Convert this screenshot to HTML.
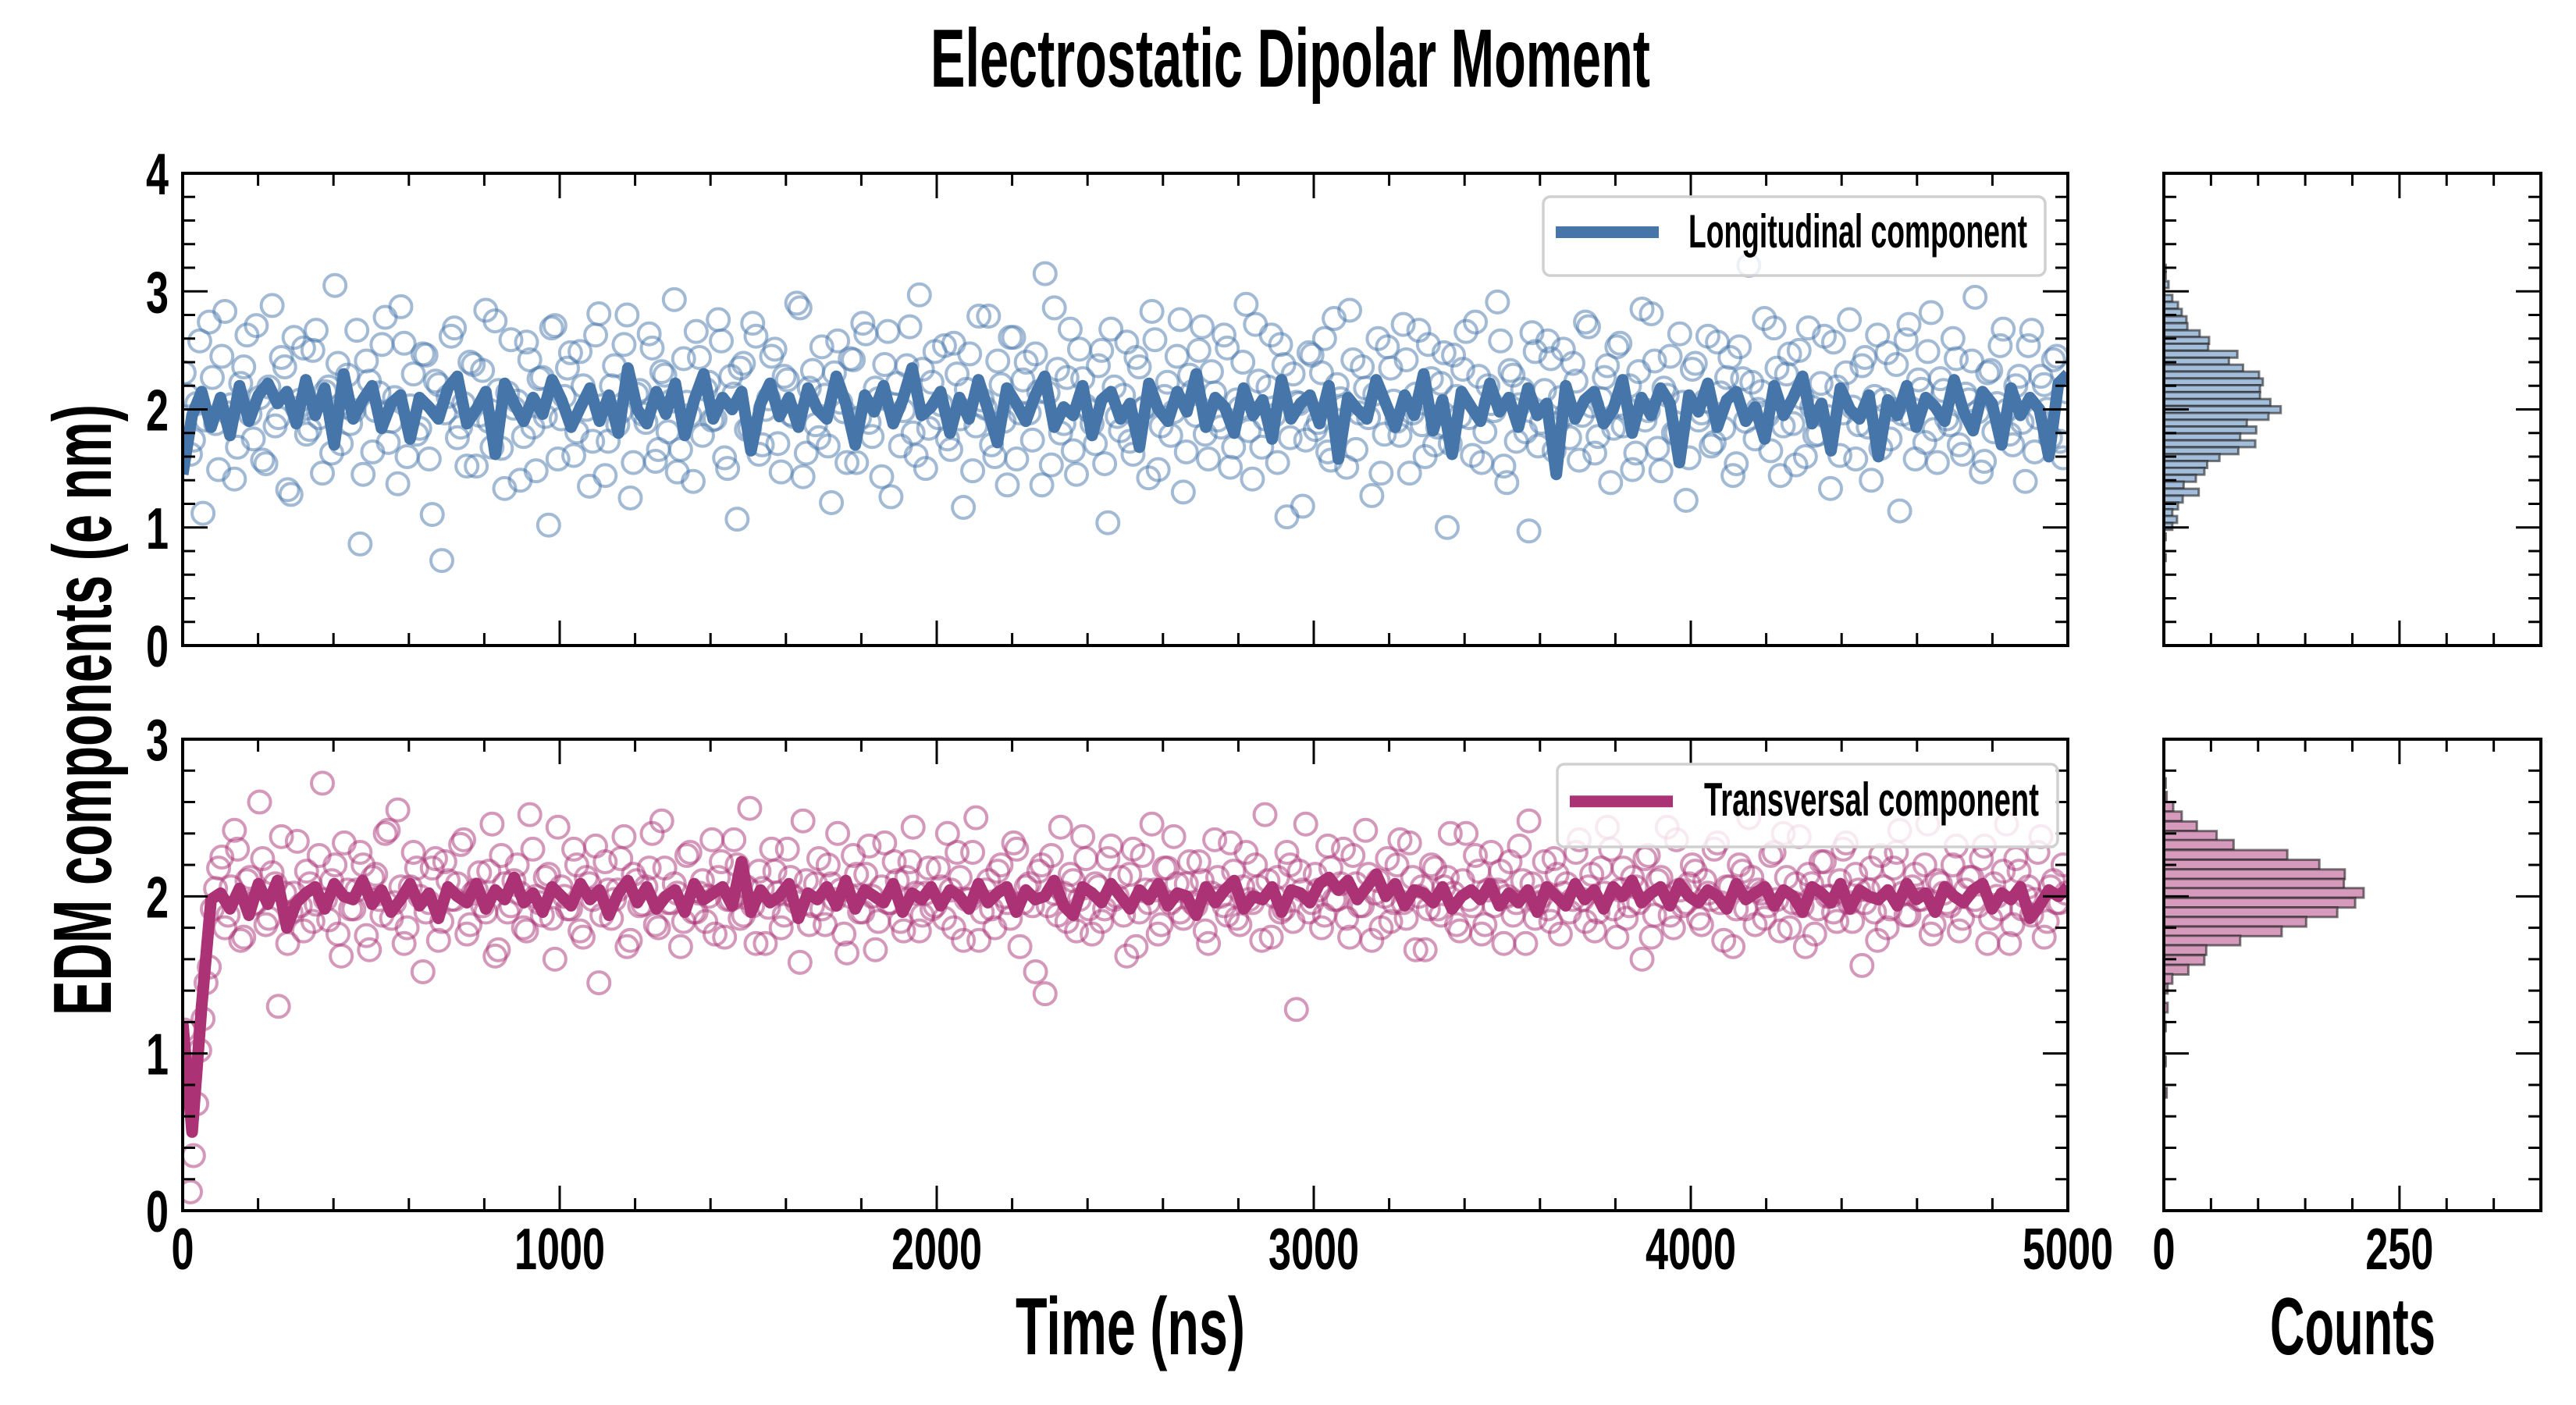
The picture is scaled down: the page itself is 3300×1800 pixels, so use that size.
<!DOCTYPE html>
<html><head><meta charset="utf-8"><style>
html,body{margin:0;padding:0;background:#fff;}
svg{display:block;}
text{font-family:"Liberation Sans",sans-serif;font-weight:bold;fill:#000;}
</style></head><body>
<svg id="chart" width="3300" height="1800" viewBox="0 0 3300 1800" xmlns="http://www.w3.org/2000/svg">
<defs>
<clipPath id="clipTop"><rect x="234" y="222" width="2415" height="605"/></clipPath>
<clipPath id="clipBot"><rect x="234" y="947" width="2415" height="604"/></clipPath>
</defs>
<text x="1192" y="111" font-size="106" textLength="922" lengthAdjust="spacingAndGlyphs">Electrostatic Dipolar Moment</text>
<text x="1301" y="1735" font-size="104" textLength="294" lengthAdjust="spacingAndGlyphs">Time (ns)</text>
<text x="2908" y="1735" font-size="104" textLength="212" lengthAdjust="spacingAndGlyphs">Counts</text>
<text transform="translate(142,1301) rotate(-90)" x="0" y="0" font-size="106" textLength="783" lengthAdjust="spacingAndGlyphs">EDM components (e nm)</text>
<g id="layer"></g>
</svg>
<script>
// ---- data ----
const timeMax = 5000;
const longScatter = [2.31,1.62,2.05,1.12,2.74,1.88,2.45,1.97,1.41,2.22,2.63,1.75,2.10,1.54,2.88,1.93,2.36,1.28,2.01,2.52,
1.83,2.67,1.46,2.19,3.05,1.71,2.29,1.99,0.86,2.41,1.64,2.14,2.78,1.90,1.37,2.56,2.03,1.79,2.47,1.58,
2.24,0.72,2.11,2.69,1.85,1.52,2.38,1.95,2.84,1.68,2.16,1.33,2.59,2.07,1.77,2.42,1.48,2.27,1.02,2.71,
1.92,2.35,1.61,2.49,2.00,1.73,2.81,1.44,2.20,1.87,2.55,1.25,2.13,1.96,2.64,1.56,2.32,1.81,2.93,1.66,
2.06,1.39,2.44,2.17,1.91,2.76,1.59,2.28,1.07,2.39,1.84,2.62,1.70,2.09,2.51,1.47,2.25,1.94,2.86,1.63,
2.33,1.76,2.12,1.21,2.58,1.98,2.43,1.55,2.73,1.89,2.18,1.43,2.66,2.04,1.69,2.37,1.80,2.97,1.50,2.23,
1.93,2.54,1.66,2.30,1.17,2.47,1.86,2.08,2.79,1.60,2.21,1.36,2.61,1.97,2.40,1.74,2.15,3.15,1.53,2.34,
1.88,2.68,1.45,2.26,1.99,1.71,2.50,1.04,2.19,1.82,2.57,1.62,2.36,2.02,2.83,1.49,2.11,1.78,2.45,1.30,
2.29,1.95,2.70,1.58,2.14,1.85,2.52,1.68,2.01,2.89,1.41,2.24,1.92,2.63,1.55,2.38,1.76,2.06,1.18,2.48,
1.83,2.31,1.64,2.77,2.09,1.51,2.42,1.97,2.18,1.27,2.60,1.79,2.35,1.90,2.72,1.46,2.13,1.87,2.55,1.70,
2.22,1.00,2.46,1.94,2.66,1.61,2.28,1.81,2.05,2.91,1.52,2.33,1.73,2.17,0.97,2.49,1.89,2.58,1.65,2.10,
1.96,2.39,1.57,2.74,2.03,1.77,2.27,1.38,2.53,1.86,2.20,1.63,2.85,1.99,2.41,1.48,2.12,1.80,2.64,1.23,
2.34,1.91,2.07,1.69,2.57,1.84,2.44,1.54,2.26,3.22,1.75,2.15,1.95,2.69,1.44,2.30,1.88,2.50,1.60,2.02,
1.79,2.62,1.33,2.19,1.97,2.76,1.58,2.37,1.85,2.11,1.67,2.48,2.00,1.14,2.59,1.92,2.25,1.72,2.82,1.55,
2.16,1.87,2.43,1.62,2.08,2.95,1.47,2.31,1.81,2.54,1.99,1.70,2.28,1.39,2.67,1.93,2.21,1.76,2.45,1.59];
const longScatter2 = [2.12,1.74,2.58,1.91,2.27,1.49,2.83,2.04,1.68,2.36,1.96,2.71,1.57,2.19,1.86,2.44,1.32,2.61,2.08,1.79,
2.50,1.93,2.15,1.63,2.39,2.02,1.88,2.67,1.45,2.24,1.99,2.55,1.72,2.10,2.87,1.60,2.30,1.84,2.46,1.11,
2.21,1.97,2.62,1.76,2.05,2.40,1.52,2.33,1.90,2.75,1.67,2.14,2.01,1.40,2.57,1.85,2.26,1.94,2.69,1.58,
2.11,2.48,1.81,2.20,1.35,2.63,2.03,1.73,2.37,1.98,2.80,1.55,2.16,1.89,2.52,1.66,2.29,2.07,1.47,2.43,
1.95,2.66,1.78,2.23,1.92,2.58,1.50,2.13,2.35,1.83,2.73,1.62,2.00,2.45,1.71,2.28,1.96,2.90,1.43,2.18,
1.87,2.53,1.69,2.31,2.06,1.55,2.42,1.93,2.64,1.77,2.09,2.38,1.26,2.22,1.99,2.70,1.61,2.34,1.84,2.49,
2.04,1.75,2.56,1.92,2.17,1.48,2.79,2.01,1.70,2.41,1.90,2.61,1.58,2.25,1.97,2.47,1.36,2.14,2.86,1.80,
2.27,1.65,2.51,2.03,1.88,2.37,1.54,2.68,1.94,2.12,1.73,2.44,2.00,1.42,2.59,1.86,2.23,1.98,2.76,1.64,
2.15,2.50,1.79,2.32,1.91,2.63,1.51,2.08,2.40,1.82,2.72,1.68,2.19,1.95,2.55,1.09,2.30,2.05,1.74,2.46,
1.89,2.60,1.57,2.21,2.02,2.84,1.66,2.36,1.93,2.13,1.46,2.53,2.07,1.78,2.42,1.97,2.67,1.60,2.26,1.85,
2.48,1.71,2.11,2.34,1.93,2.74,1.55,2.20,1.99,2.58,1.38,2.29,2.04,1.81,2.65,1.69,2.16,2.43,1.88,2.51,
1.76,2.24,1.95,2.70,1.63,2.09,2.37,1.84,2.56,2.01,1.49,2.32,1.91,2.81,1.67,2.18,2.45,1.80,2.06,1.59,
2.39,1.97,2.62,1.72,2.14,2.27,1.44,2.53,1.90,2.23,2.00,2.77,1.65,2.35,1.86,2.47,1.53,2.10,2.69,1.78,
2.22,1.94,2.57,1.61,2.31,2.02,1.87,2.44,1.40,2.63,2.08,1.75,2.38,1.96,2.72,1.58,2.17,2.49,1.83,2.26,
1.92,2.60,1.70,2.13,2.41,1.98,1.56,2.33,2.05,2.68,1.79,2.20,1.89,2.54,1.64,2.28,2.00,2.42,1.73,2.15];
const longLine = [1.45,1.95,2.15,1.85,2.10,1.78,2.20,1.90,2.12,2.22,2.05,2.15,1.88,2.25,1.95,2.18,1.70,2.30,1.92,2.08,
2.20,1.84,2.05,2.12,1.75,2.10,2.02,1.92,2.18,2.28,1.88,2.00,2.15,1.62,2.22,2.05,1.90,2.10,1.96,2.25,
2.08,1.85,2.02,2.18,1.90,2.12,1.80,2.35,2.00,1.88,2.15,1.96,2.22,1.78,2.08,2.30,1.92,2.10,2.00,2.15,
1.65,2.05,2.22,1.94,2.10,1.85,2.18,2.00,1.92,2.28,2.05,1.70,2.12,1.98,2.20,1.88,2.08,2.35,1.95,2.02,
2.15,1.80,2.10,1.92,2.25,2.00,1.72,2.18,2.05,1.90,2.12,2.28,1.85,2.02,1.95,2.20,1.78,2.08,2.15,1.92,
2.05,1.68,2.22,2.00,1.90,2.15,1.98,2.30,1.85,2.10,2.02,1.80,2.18,1.95,2.08,1.75,2.25,1.92,2.05,2.12,
1.88,2.20,1.58,2.10,2.00,1.92,2.25,2.05,1.85,2.12,1.95,2.30,1.82,2.08,1.62,2.15,2.02,1.90,2.22,1.98,
2.10,1.85,2.18,1.95,2.05,1.45,2.20,1.92,2.08,2.15,1.88,2.00,2.25,1.80,2.10,1.95,2.18,2.05,1.55,2.12,
1.98,2.22,1.85,2.08,2.15,1.90,2.02,1.75,2.20,1.95,2.10,2.28,1.88,2.05,1.65,2.18,2.00,1.92,2.12,1.60,
2.08,1.95,2.20,1.85,2.10,2.02,1.90,2.25,1.98,1.82,2.15,2.05,1.70,2.18,1.95,2.10,2.00,1.60,2.22,2.30];
const transScatter = [1.15,0.12,0.68,1.22,1.55,2.05,2.25,1.88,2.42,1.72,2.10,1.95,2.60,1.82,2.15,1.30,2.02,1.90,2.35,1.78,
2.08,1.95,2.72,1.85,2.20,1.62,2.04,1.92,2.28,1.75,2.12,1.98,2.40,1.86,2.55,1.70,2.06,2.18,1.52,1.96,
2.24,1.84,2.10,1.98,2.33,1.76,2.02,2.15,1.90,2.46,1.66,2.08,1.94,2.20,1.80,2.52,2.00,1.88,2.14,1.60,
2.06,1.92,2.30,1.78,2.12,1.98,1.45,2.22,1.86,2.04,2.38,1.72,2.10,1.95,2.18,1.82,2.48,1.96,2.08,1.68,
2.26,1.90,2.02,1.84,2.36,2.12,1.74,1.98,2.20,1.88,2.56,1.70,2.05,1.93,2.16,1.80,2.30,2.00,1.58,2.10,
1.94,2.24,1.82,2.08,2.40,1.76,2.00,2.14,1.90,2.32,1.66,2.06,1.96,2.22,1.84,2.12,2.44,1.78,2.02,1.92,
2.18,1.86,2.04,2.28,1.72,1.98,2.50,1.90,2.10,1.80,2.20,1.96,2.34,1.68,2.06,1.94,2.16,1.38,2.26,1.88,
2.02,2.14,1.78,2.38,1.92,2.08,1.84,2.24,1.98,2.12,1.62,2.30,1.90,2.04,2.46,1.76,2.18,1.96,2.08,1.86,
2.22,1.94,2.10,1.70,2.36,2.00,1.88,2.16,1.82,2.28,1.96,2.06,2.52,1.74,2.12,1.92,2.20,1.28,2.04,1.90,
2.14,1.80,2.32,1.98,2.08,1.86,2.26,1.94,2.42,1.72,2.10,2.00,1.84,2.20,1.96,2.34,1.66,2.06,1.92,2.18,
1.88,2.12,2.02,1.78,2.40,1.94,2.16,1.82,2.28,2.04,1.70,2.22,1.96,2.10,2.48,1.86,2.00,1.92,2.24,1.76,
2.08,1.98,2.36,1.84,2.14,1.90,2.02,2.30,1.74,2.18,1.94,2.06,1.60,2.26,1.88,2.12,2.44,1.80,2.04,1.96,
2.20,1.86,2.10,1.98,2.34,1.72,2.06,1.92,2.16,2.50,1.82,2.02,1.94,2.28,1.78,2.12,1.96,2.38,1.68,2.08,
1.92,2.22,2.00,1.84,2.30,1.96,2.14,1.56,2.04,1.90,2.26,1.80,2.18,2.42,1.88,2.06,1.98,2.20,1.76,2.10,
2.02,1.94,2.32,1.86,2.12,1.98,2.24,1.70,2.08,1.92,2.46,1.82,2.16,2.00,1.88,2.28,1.74,2.06,1.96,2.20];
const transScatter2 = [0.82,0.35,1.02,1.45,1.92,2.18,1.80,2.06,2.30,1.74,2.12,1.96,2.24,1.86,2.08,2.38,1.70,2.02,1.94,2.16,
1.84,2.26,1.98,2.10,1.76,2.34,1.92,2.04,2.20,1.66,2.14,1.88,2.42,1.96,2.06,1.80,2.28,2.00,1.90,2.18,
1.72,2.22,1.98,2.08,2.36,1.82,2.04,1.94,2.16,1.62,2.26,1.90,2.10,2.02,1.78,2.30,1.96,2.12,1.86,2.44,
2.00,1.92,2.20,1.74,2.08,2.32,1.88,2.04,1.98,2.24,1.68,2.14,1.94,2.06,2.40,1.80,2.18,1.96,2.02,1.84,
2.28,1.90,2.10,2.00,1.76,2.22,1.98,2.36,1.86,2.06,1.94,2.16,1.70,2.30,2.02,1.88,2.12,1.96,2.48,1.82,
2.08,1.92,2.20,1.98,2.04,1.64,2.26,1.90,2.14,2.00,1.84,2.34,1.96,2.10,1.78,2.22,2.02,1.88,2.18,1.94,
2.06,2.40,1.80,2.12,1.98,2.28,1.72,2.04,1.92,2.16,2.00,1.86,2.30,1.96,2.08,1.52,2.20,1.94,2.02,2.44,
1.84,2.10,1.98,2.24,1.76,2.06,1.92,2.32,2.00,1.88,2.14,1.68,2.26,1.96,2.04,1.82,2.18,2.38,1.90,2.08,
1.96,2.22,1.78,2.02,2.12,1.94,2.34,1.86,2.06,1.98,2.20,1.72,2.10,2.00,1.90,2.28,1.84,2.16,2.46,1.96,
2.04,1.88,2.18,1.98,2.30,1.74,2.08,1.94,2.14,2.02,1.80,2.24,1.96,2.36,1.86,2.12,2.00,1.66,2.20,1.92,
2.06,2.40,1.82,2.10,1.98,2.26,1.76,2.04,1.94,2.16,2.00,1.88,2.32,1.70,2.08,1.96,2.22,1.84,2.14,2.02,
1.90,2.28,1.98,2.06,1.78,2.18,2.44,1.92,2.04,1.86,2.12,1.96,2.24,1.74,2.10,2.00,1.88,2.36,1.94,2.08,
2.16,1.82,2.02,2.30,1.96,2.06,1.68,2.20,1.92,2.12,2.04,1.86,2.26,1.98,2.40,1.80,2.08,1.94,2.14,1.76,
2.22,2.00,1.90,2.10,2.34,1.84,2.04,1.96,2.18,1.72,2.06,1.92,2.28,2.02,1.88,2.14,1.98,2.46,1.82,2.08,
1.96,2.20,1.78,2.04,2.12,1.94,2.32,1.86,2.00,2.16,1.70,2.24,1.92,2.06,1.98,2.38,1.84,2.10,1.96,2.02];
const transLine = [1.20,0.50,1.30,1.98,2.02,1.92,2.05,1.88,2.08,1.95,2.10,1.80,1.96,2.02,2.06,1.92,2.08,2.00,1.98,2.10,
1.95,2.04,1.90,1.98,2.08,1.94,2.02,1.86,2.06,2.00,1.96,2.08,1.92,2.04,1.98,2.12,1.96,2.02,1.90,2.06,
2.00,1.94,2.08,1.98,2.04,1.88,2.02,2.10,1.96,2.06,1.92,2.00,2.04,1.90,2.08,1.98,2.02,2.06,1.94,2.22,
1.90,2.04,1.96,2.00,2.08,1.86,2.02,1.98,2.06,1.94,2.10,1.92,2.04,2.00,1.96,2.08,1.90,2.02,1.98,2.06,
1.94,2.04,2.00,1.92,2.08,1.96,2.02,2.06,1.90,2.04,1.98,2.00,2.10,1.94,1.88,2.06,2.02,1.96,2.08,2.00,
1.92,2.04,1.98,2.08,1.94,2.02,2.00,1.88,2.06,1.96,2.04,2.10,1.92,2.00,1.98,2.06,1.90,2.04,2.02,1.96,
2.08,2.12,2.04,2.10,1.98,2.06,2.14,2.00,2.08,1.94,2.04,2.02,1.96,2.06,1.92,2.00,2.04,1.98,2.08,1.94,
2.02,1.96,2.04,1.90,2.06,2.00,1.94,2.08,1.98,2.04,1.92,2.06,2.00,2.10,1.96,2.02,2.06,1.94,2.08,2.00,
1.96,2.04,2.00,1.92,2.08,1.98,2.02,2.06,1.94,2.04,2.00,1.90,2.06,2.02,1.96,2.08,1.92,2.04,2.00,1.98,
2.04,1.94,2.08,1.98,2.02,1.90,2.06,2.00,1.96,2.04,2.08,1.92,2.02,1.98,2.06,1.86,1.94,2.04,2.00,2.06];
const longHistBins = [3.196,3.135,3.057,2.941,2.881,2.822,2.760,2.701,2.641,2.584,2.527,2.467,2.408,2.350,2.291,2.233,2.176,2.117,2.059,1.998,1.941,1.883,1.826,1.767,1.709,1.650,1.592,1.533,1.476,1.416,1.359,1.299,1.240,1.182,1.126,1.068,1.009,0.921,0.744];
const longHistCounts = [2,2,5,9,15,19,24,25,38,48,47,78,69,84,101,105,102,102,113,124,111,88,98,81,97,79,59,46,43,34,21,37,20,15,9,14,9,2,2];
const transHistBins = [2.721,2.634,2.570,2.509,2.446,2.385,2.328,2.264,2.202,2.141,2.080,2.022,1.959,1.899,1.838,1.777,1.719,1.658,1.595,1.533,1.475,1.412,1.292,1.172,0.949,0.750];
const transHistCounts = [2,3,10,19,35,56,74,131,165,192,191,212,203,184,151,125,81,45,43,26,9,4,4,2,2,3];
const xTickLabels = ["0","1000","2000","3000","4000","5000"];
const xTickValues = [0,1000,2000,3000,4000,5000];
const topYTickLabels = ["0","1","2","3","4"];
const botYTickLabels = ["0","1","2","3"];
const histTickLabels = ["0","250"];
const histTickValues = [0,250];

// ---- layout ----
const NS = "http://www.w3.org/2000/svg";
const layer = document.getElementById('layer');
const PX0 = 234, PX1 = 2649, HX0 = 2772, HX1 = 3255;
const topP = {y0: 827, y1: 222, vmax: 4};
const botP = {y0: 1551, y1: 947, vmax: 3};
const BLUE = "#4575a9", MAG = "#aa3275";
function xT(t){ return PX0 + (t/timeMax)*(PX1-PX0); }
function xC(c){ return HX0 + (c/400)*(HX1-HX0); }
function yS(p, v){ return p.y0 - (v/p.vmax)*(p.y0-p.y1); }
function mk(tag, attrs, parent){
  const e = document.createElementNS(NS, tag);
  for (const k in attrs) e.setAttribute(k, attrs[k]);
  (parent||layer).appendChild(e); return e;
}

function scatterSet(g, p, arr, color, name, offset){
  const dts = timeMax/(arr.length);
  arr.forEach((v,i)=>{
    const c = mk('circle', {cx: xT(i*dts+offset), cy: yS(p,v), r: 14, fill: 'none', stroke: color, 'stroke-width': 4, 'stroke-opacity': 0.5}, g);
    
    
  });
}

function panel(p, scatter, scatter2, line, color, clip, name){
  const g = mk('g', {'clip-path': 'url(#'+clip+')'});
  
  
  scatterSet(g, p, scatter, color, name, 4);
  scatterSet(g, p, scatter2, color, name, 12);
  const dtl = timeMax/(line.length-1);
  const d = line.map((v,i)=>(i?'L':'M')+xT(i*dtl).toFixed(1)+' '+yS(p,v).toFixed(1)).join(' ');
  const path = mk('path', {d: d, fill: 'none', stroke: color, 'stroke-width': 15, 'stroke-linejoin': 'round'}, g);
  
  
}

function frame(x0, x1, p, xMinorStep, xMinorMax, xMajor, xFn, name){
  const g = mk('g', {});
  
  
  for (let k=0; k<=p.vmax*5; k++){
    const v = k/5, y = yS(p, v), L = (k%5===0)?32:16;
    mk('line', {x1:x0, x2:x0+L, y1:y, y2:y, stroke:'#000','stroke-width':3}, g);
    mk('line', {x1:x1, x2:x1-L, y1:y, y2:y, stroke:'#000','stroke-width':3}, g);
  }
  for (let v=0; v<=xMinorMax; v+=xMinorStep){
    const x = xFn(v), L = (xMajor.indexOf(v)>=0)?32:16;
    mk('line', {x1:x, x2:x, y1:p.y0, y2:p.y0-L, stroke:'#000','stroke-width':3}, g);
    mk('line', {x1:x, x2:x, y1:p.y1, y2:p.y1+L, stroke:'#000','stroke-width':3}, g);
  }
  mk('rect', {x:x0, y:p.y1, width:x1-x0, height:p.y0-p.y1, fill:'none', stroke:'#000', 'stroke-width':4}, g);
}

function hist(p, bins, counts, fill, name, bw){
  const g = mk('g', {});
  
  
  bins.forEach((b,i)=>{
    const yt = yS(p, b+bw/2), yb = yS(p, b-bw/2);
    const r = mk('rect', {x: HX0, y: yt, width: xC(counts[i])-HX0, height: yb-yt, fill: fill, stroke: '#222', 'stroke-opacity': 0.6, 'stroke-width': 3}, g);
    
    
  });
}

function legend(x, y, w, h, color, label, tx, tw, ty, name){
  const g = mk('g', {});
  
  
  mk('rect', {x:x, y:y, width:w, height:h, rx:9, fill:'#fff', 'fill-opacity':0.8, stroke:'#d0d0d0', 'stroke-width':3.5}, g);
  mk('line', {x1:x+16, x2:x+148, y1:y+h*0.45, y2:y+h*0.45, stroke:color, 'stroke-width':15}, g);
  const t = mk('text', {x:tx, y:ty, 'font-size':60, textLength:tw, lengthAdjust:'spacingAndGlyphs'}, g);
  t.textContent = label;
}

function labelsText(){
  const g = mk('g', {});
  
  
  xTickLabels.forEach((s,i)=>{
    const t = mk('text', {x: xT(xTickValues[i]), y: 1626, 'font-size': 75, 'text-anchor':'middle', textLength: s.length*29, lengthAdjust:'spacingAndGlyphs'}, g);
    t.textContent = s;
  });
  histTickLabels.forEach((s,i)=>{
    const t = mk('text', {x: xC(histTickValues[i]), y: 1626, 'font-size': 75, 'text-anchor':'middle', textLength: s.length*29, lengthAdjust:'spacingAndGlyphs'}, g);
    t.textContent = s;
  });
  topYTickLabels.forEach((s,i)=>{
    const t = mk('text', {x: 216, y: yS(topP, i)+27, 'font-size': 75, 'text-anchor':'end', textLength: 29, lengthAdjust:'spacingAndGlyphs'}, g);
    t.textContent = s;
  });
  botYTickLabels.forEach((s,i)=>{
    const t = mk('text', {x: 216, y: yS(botP, i)+27, 'font-size': 75, 'text-anchor':'end', textLength: 29, lengthAdjust:'spacingAndGlyphs'}, g);
    t.textContent = s;
  });
}

panel(topP, longScatter, longScatter2, longLine, BLUE, 'clipTop', 'longitudinal');
panel(botP, transScatter, transScatter2, transLine, MAG, 'clipBot', 'transversal');
hist(topP, longHistBins, longHistCounts, '#a3bedb', 'longitudinal', 0.058);
hist(botP, transHistBins, transHistCounts, '#d69abd', 'transversal', 0.061);
frame(PX0, PX1, topP, 200, 5000, xTickValues, xT, 'top-main');
frame(PX0, PX1, botP, 200, 5000, xTickValues, xT, 'bottom-main');
frame(HX0, HX1, topP, 50, 400, histTickValues, xC, 'top-hist');
frame(HX0, HX1, botP, 50, 400, histTickValues, xC, 'bottom-hist');
legend(1977, 252, 643, 101, BLUE, 'Longitudinal component', 2163, 434, 317, 'longitudinal');
legend(1995, 979, 641, 106, MAG, 'Transversal component', 2183, 429, 1045, 'transversal');
labelsText();
</script>
</body></html>
